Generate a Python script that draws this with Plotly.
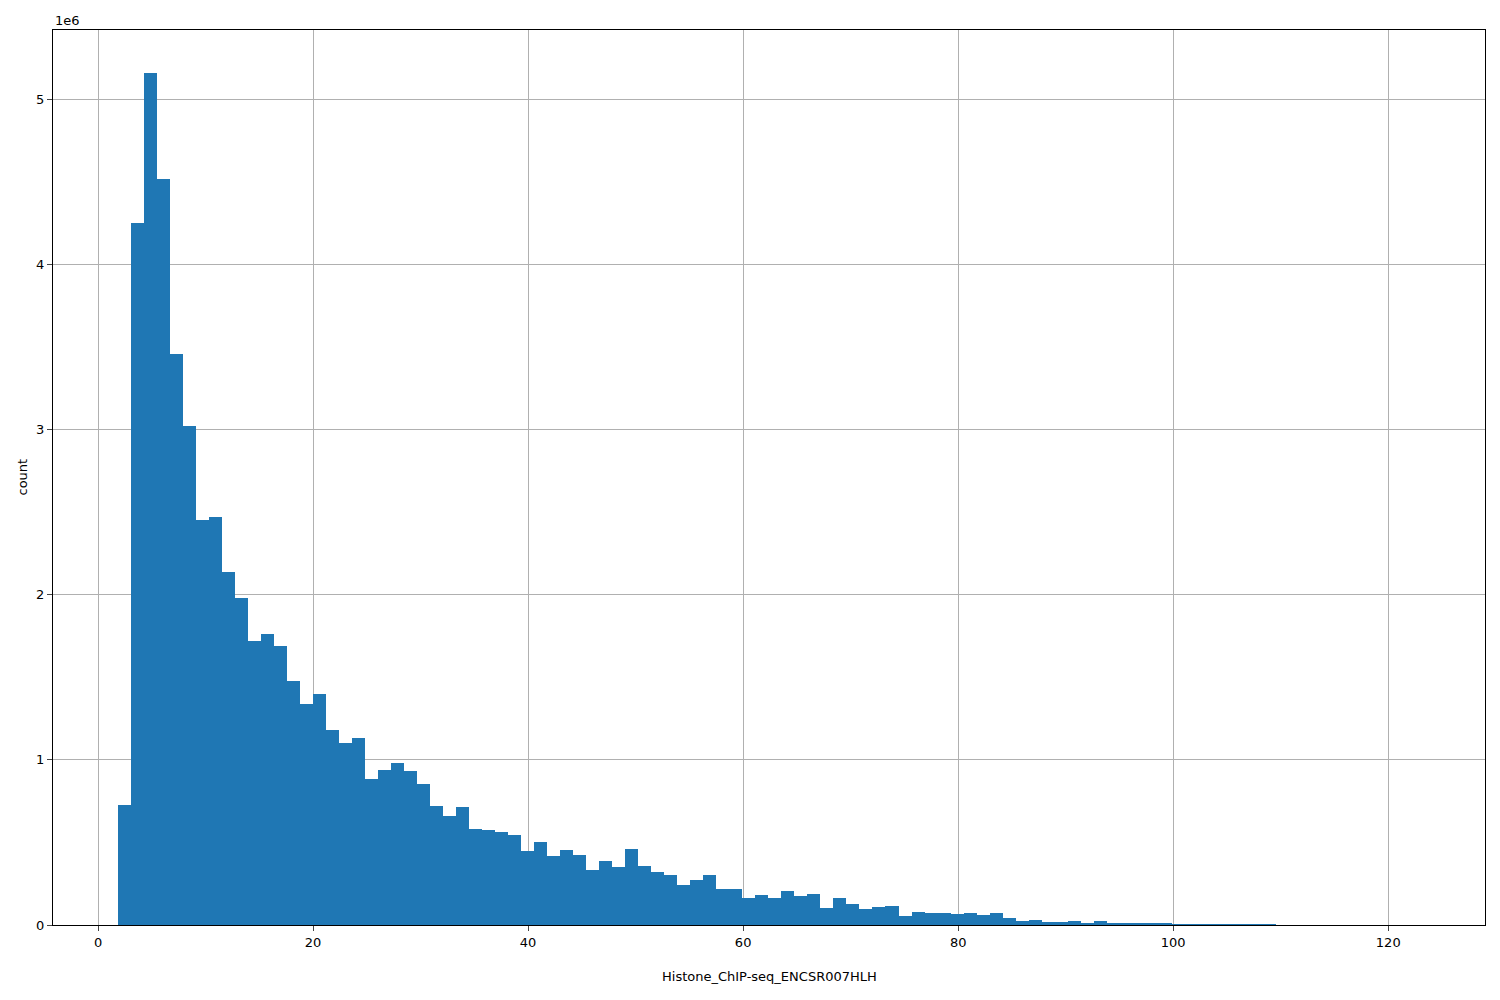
import plotly.graph_objects as go

bin_start = 1.85
bin_width = 1.21
counts_millions = [
    0.727, 4.25, 5.16, 4.52, 3.46, 3.02, 2.45, 2.47, 2.14, 1.98,
    1.72, 1.76, 1.69, 1.48, 1.34, 1.40, 1.18, 1.10, 1.13, 0.885,
    0.94, 0.98, 0.93, 0.855, 0.72, 0.66, 0.715, 0.58, 0.575, 0.565,
    0.545, 0.45, 0.50, 0.42, 0.455, 0.425, 0.335, 0.39, 0.35, 0.46,
    0.36, 0.32, 0.30, 0.24, 0.27, 0.30, 0.22, 0.22, 0.165, 0.18,
    0.165, 0.205, 0.175, 0.185, 0.10, 0.165, 0.13, 0.095, 0.11, 0.115,
    0.055, 0.08, 0.075, 0.07, 0.065, 0.07, 0.06, 0.075, 0.045, 0.025,
    0.03, 0.02, 0.02, 0.025, 0.015, 0.025, 0.008, 0.015, 0.015, 0.008,
    0.01, 0.006, 0.004, 0.001, 0.001, 0.0005, 0.0005, 0.004, 0.0005, 0.0,
    0.0, 0.0, 0.0, 0.0, 0.0, 0.0, 0.0, 0.0, 0.0, 0.0,
]
x_ticks = [0, 20, 40, 60, 80, 100, 120]
y_ticks = [0, 1, 2, 3, 4, 5]

centers = [bin_start + bin_width * (i + 0.5) for i in range(len(counts_millions))]
counts = [c * 1e6 for c in counts_millions]

fig = go.Figure(go.Bar(x=centers, y=counts, width=bin_width,
                       marker=dict(color="#1f77b4", line=dict(width=0))))

font = dict(family="DejaVu Sans", size=13, color="black")
fig.update_layout(
    width=1500, height=1000, plot_bgcolor="white", paper_bgcolor="white",
    margin=dict(l=45, r=23, t=22, b=83, autoexpand=False), font=font,
    showlegend=False, bargap=0,
)
fig.update_xaxes(range=[-4.19, 129], tickvals=x_ticks, ticks="outside", ticklen=5,
                 showgrid=True, gridcolor="#b0b0b0", gridwidth=1, layer="above traces",
                 showline=True, linecolor="black", mirror=True, zeroline=False,
                 automargin=False)
fig.update_yaxes(range=[0, 5.42e6], tickvals=[v * 1e6 for v in y_ticks],
                 ticktext=[str(v) for v in y_ticks], ticks="outside", ticklen=5,
                 showgrid=True, gridcolor="#b0b0b0", gridwidth=1, layer="above traces",
                 showline=True, linecolor="black", mirror=True, zeroline=False,
                 automargin=False)
fig.add_annotation(text="1e6", xref="paper", yref="paper", x=0, y=1, xanchor="left",
                   yanchor="bottom", showarrow=False, font=font, xshift=0, yshift=0)
fig.add_annotation(text="Histone_ChIP-seq_ENCSR007HLH", xref="paper", yref="paper",
                   x=0.5, y=0, xanchor="center", yanchor="top", showarrow=False,
                   font=font, yshift=-42)
fig.add_annotation(text="count", xref="paper", yref="paper", x=0, y=0.5,
                   xanchor="center", yanchor="middle", showarrow=False, textangle=-90,
                   font=font, xshift=-31)
fig.write_html("out.html")
